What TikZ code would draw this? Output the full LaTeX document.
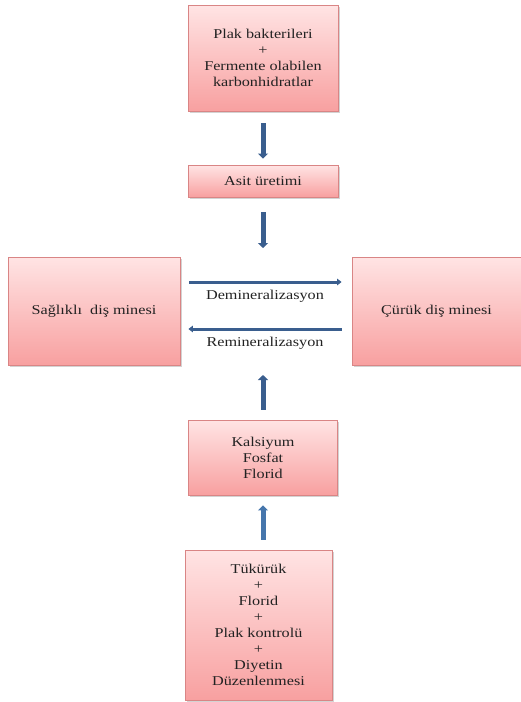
\documentclass[tikz,border=0pt]{standalone}
\usepackage{fontspec}
\setmainfont[FakeStretch=1.2]{Liberation Serif}
\usetikzlibrary{arrows.meta,shadows}
\definecolor{boxtop}{HTML}{FFE4E4}
\definecolor{boxbot}{HTML}{F8A0A0}
\definecolor{boxline}{HTML}{D98585}
\definecolor{arrdark}{HTML}{3A5E8E}
\definecolor{arrlight}{HTML}{4676AC}
\definecolor{txt}{HTML}{222222}
\tikzset{
  pbox/.style={draw=boxline, line width=0.8pt, top color=boxtop, bottom color=boxbot,
    align=center, inner sep=2pt, text=txt, font=\fontsize{13.5}{16}\selectfont,
    drop shadow={shadow xshift=1.5pt, shadow yshift=-1.5pt, opacity=0.35}},
  varr/.style={line width=5pt, draw=arrdark, -{Triangle[width=10pt,length=5pt]}},
  varrl/.style={line width=5pt, draw=arrlight, -{Triangle[width=10pt,length=5pt]}},
  harr/.style={line width=3pt, draw=arrdark, -{Triangle[width=6.5pt,length=4.5pt]}},
  lbl/.style={font=\fontsize{13.5}{16}\selectfont, text=txt, inner sep=0pt}
}
\begin{document}
\begin{tikzpicture}[x=1pt,y=-1pt]
\useasboundingbox (0,0) rectangle (521,702);
\node[pbox, minimum width=150pt, minimum height=106pt] (b1) at (263,58) {Plak bakterileri\\+\\Fermente olabilen\\karbonhidratlar};
\node[pbox, minimum width=150pt, minimum height=32pt] (b2) at (263,181) {Asit üretimi};
\node[pbox, minimum width=172pt, minimum height=108pt] (left) at (94,311) {Sağlıklı~ diş minesi};
\node[pbox, minimum width=169pt, minimum height=108pt] (right) at (436.5,311) {Çürük diş minesi};
\node[pbox, minimum width=149pt, minimum height=75pt] (kal) at (263,457.5) {Kalsiyum\\Fosfat\\Florid};
\node[pbox, minimum width=147pt, minimum height=150pt] (bot) at (258.5,625) {Tükürük\\+\\Florid\\+\\Plak kontrolü\\+\\Diyetin\\Düzenlenmesi};
\coordinate (c1) at (263,248);
\coordinate (c2) at (263,375);
\draw[varr, shorten <=12pt, shorten >=6pt] (b1.south) -- (b2.south |- b2.north);
\draw[varr, shorten <=15pt] (b2.south) -- (c1);
\draw[harr, shorten <=9pt, shorten >=10pt] ([yshift=29pt]left.east) -- ([yshift=29pt]right.west);
\draw[harr, shorten <=10pt, shorten >=8pt] ([yshift=-18pt]right.west) -- ([yshift=-18pt]left.east);
\node[lbl] (dem) at (265,296) {Demineralizasyon};
\node[lbl] (rem) at (265,343) {Remineralizasyon};
\draw[varr, shorten <=10pt] (kal.north) -- (c2);
\draw[varrl, shorten <=10pt, shorten >=10pt] (kal.south |- bot.north) -- (kal.south);
\end{tikzpicture}
\end{document}
